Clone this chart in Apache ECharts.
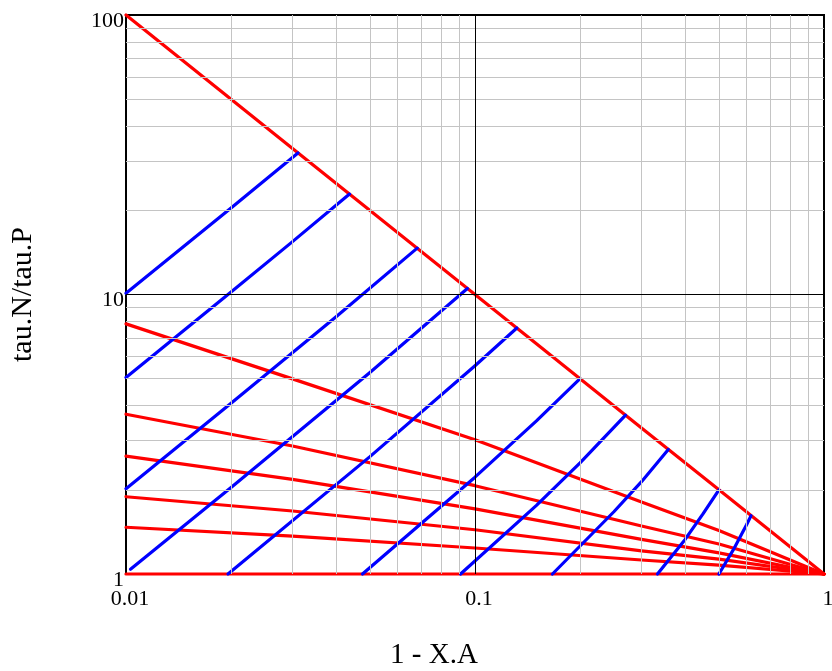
<!DOCTYPE html>
<html>
<head>
<meta charset="utf-8">
<script src="https://cdn.jsdelivr.net/npm/echarts@6/dist/echarts.min.js"></script>
<style>
html,body{margin:0;padding:0;background:#fff;}
#c{width:832px;height:671px;}
</style>
</head>
<body>
<div id="c"></div>
<script>
// ---- data ----
const xTickLabels = ['0.01', '0.1', '1'];
const yTickLabels = ['1', '10', '100'];
const xMinor = [0.02,0.03,0.04,0.05,0.06,0.07,0.08,0.09,0.2,0.3,0.4,0.5,0.6,0.7,0.8,0.9];
const yMinor = [2,3,4,5,6,7,8,9,20,30,40,50,60,70,80,90];

// red curves (tau.N/tau.P vs 1 - X.A)
const redX     = [0.01, 0.03, 0.1, 0.3, 0.5, 1];
const redN1    = [100, 33.3, 10, 3.33, 2, 1];
const redN2    = [7.85, 4.99, 3.02, 1.81, 1.43, 1];
const redN3    = [3.73, 2.87, 2.07, 1.485, 1.28, 1];
const redN4    = [2.64, 2.18, 1.71, 1.33, 1.19, 1];
const redN6    = [1.89, 1.68, 1.44, 1.21, 1.13, 1];
const redN10   = [1.47, 1.367, 1.239, 1.122, 1.075, 1];
const redPlug  = [1, 1, 1, 1, 1, 1];

// blue curves (constant k*C0*tau)
const blue1000X = [0.01, 0.02, 0.0311];   const blue1000Y = [10.1, 20.41, 32.1];
const blue500X  = [0.01, 0.02, 0.03, 0.0437]; const blue500Y = [5.05, 10.2, 15.46, 22.87];
const blue200X  = [0.01, 0.02, 0.04, 0.0683]; const blue200Y = [2.02, 4.08, 8.33, 14.65];
const blue100X  = [0.0103, 0.02, 0.05, 0.0951]; const blue100Y = [1.04, 2.04, 5.26, 10.51];
const blue50X   = [0.0196, 0.05, 0.1, 0.1318]; const blue50Y = [1.0, 2.63, 5.56, 7.59];
const blue20X   = [0.0476, 0.1, 0.15, 0.2];   const blue20Y = [1.0, 2.22, 3.53, 5.0];
const blue10X   = [0.0909, 0.15, 0.2, 0.27];  const blue10Y = [1.0, 1.76, 2.5, 3.70];
const blue5X    = [0.1667, 0.25, 0.3, 0.358]; const blue5Y = [1.0, 1.67, 2.14, 2.79];
const blue2X    = [0.3333, 0.4, 0.45, 0.5];   const blue2Y = [1.0, 1.33, 1.64, 2.0];
const blue1X    = [0.5, 0.55, 0.6, 0.618];    const blue1Y = [1.0, 1.222, 1.5, 1.618];

const pair = (xs, ys) => xs.map((x, i) => [x, ys[i]]);
const FONT = '"Liberation Serif", "Times New Roman", serif';

const redCurves = [redN1, redN2, redN3, redN4, redN6, redN10, redPlug];
const blueCurves = [
  [blue1000X, blue1000Y], [blue500X, blue500Y], [blue200X, blue200Y], [blue100X, blue100Y],
  [blue50X, blue50Y], [blue20X, blue20Y], [blue10X, blue10Y], [blue5X, blue5Y],
  [blue2X, blue2Y], [blue1X, blue1Y]
];

const series = [];
// grid lines via markLine
series.push({
  type: 'line', data: [], silent: true, z: 1,
  markLine: {
    silent: true, symbol: ['none', 'none'], animation: false,
    label: { show: false },
    lineStyle: { color: '#c4c4c4', width: 1, type: 'solid' },
    data: xMinor.map(v => ({ xAxis: v })).concat(yMinor.map(v => ({ yAxis: v })))
  }
});
series.push({
  type: 'line', data: [], silent: true, z: 2,
  markLine: {
    silent: true, symbol: ['none', 'none'], animation: false,
    label: { show: false },
    lineStyle: { color: '#000', width: 1, type: 'solid' },
    data: [{ xAxis: 0.1 }, { yAxis: 10 }]
  }
});
redCurves.forEach(ys => series.push({
  type: 'line', data: pair(redX, ys), showSymbol: false, symbol: 'none', clip: false, z: 3,
  lineStyle: { color: '#ff0000', width: 3.2, cap: 'round', join: 'round' }, animation: false
}));
blueCurves.forEach(([xs, ys]) => series.push({
  type: 'line', data: pair(xs, ys), showSymbol: false, symbol: 'none', clip: false, z: 4,
  lineStyle: { color: '#0000ff', width: 3.2, cap: 'round', join: 'round' }, animation: false
}));

const chart = echarts.init(document.getElementById('c'));
chart.setOption({
  animation: false,
  backgroundColor: '#fff',
  grid: {
    left: 126, right: 8, top: 15, bottom: 97, containLabel: false, outerBoundsMode: 'none',
    show: true, borderColor: '#000', borderWidth: 2, backgroundColor: 'transparent'
  },
  xAxis: {
    type: 'log', logBase: 10, min: 0.01, max: 1,
    name: '1 - X.A', nameLocation: 'middle', nameGap: 67,
    nameTextStyle: { fontFamily: FONT, fontSize: 29, color: '#000', padding: [0, 82, 0, 0] },
    axisLine: { show: true, lineStyle: { color: '#000', width: 2 } },
    axisTick: { show: false }, splitLine: { show: false }, minorTick: { show: false },
    axisLabel: {
      fontFamily: FONT, fontSize: 22, color: '#000', margin: 14, padding: [0, 0, 0, 8],
      formatter: v => xTickLabels[Math.round(Math.log10(v)) + 2]
    }
  },
  yAxis: {
    type: 'log', logBase: 10, min: 1, max: 100,
    name: 'tau.N/tau.P', nameLocation: 'middle', nameGap: 88, nameRotate: 90,
    nameTextStyle: { fontFamily: FONT, fontSize: 30, color: '#000' },
    axisLine: { show: true, lineStyle: { color: '#000', width: 2 } },
    axisTick: { show: false }, splitLine: { show: false }, minorTick: { show: false },
    axisLabel: {
      fontFamily: FONT, fontSize: 22, color: '#000', margin: 2, verticalAlign: 'top', lineHeight: 12,
      formatter: v => yTickLabels[Math.round(Math.log10(v))]
    }
  },
  series: series
});
</script>
</body>
</html>
